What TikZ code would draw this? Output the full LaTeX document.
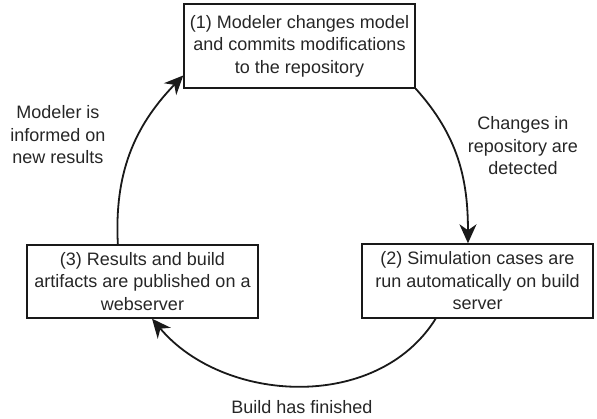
\documentclass[tikz,border=0pt]{standalone}
\usepackage{fontspec}
\setmainfont{Liberation Sans}
\usetikzlibrary{arrows.meta,calc}

\begin{document}
\begin{tikzpicture}[x=1pt,y=1pt,
  every node/.style={font=\fontsize{18}{22.5}\selectfont, text=black!85, align=center},
  stepbox/.style={draw=black!90, line width=1.4pt, minimum width=231pt, inner sep=0pt},
  flow/.style={draw=black!90, line width=1.8pt,
    -{Stealth[length=19pt,width=17pt,inset=6pt]}},
  note/.style={inner sep=0pt}]
\useasboundingbox (0,0) rectangle (597,419);

% the three stages of the cycle
\node[stepbox, minimum height=84pt, text depth=4pt] (b1) at (299.5,373)
  {(1) Modeler changes model\\and commits modifications\\to the repository};
\node[stepbox, minimum height=74pt] (b2) at (477.5,138)
  {(2) Simulation cases are\\run automatically on build\\server};
\node[stepbox, minimum height=73pt] (b3) at (142.5,137.5)
  {(3) Results and build\\artifacts are published on a\\webserver};

% transition labels
\node[note] (l12) at (523,273) {Changes in\\repository are\\detected};
\node[note] (l23) at (302,12) {Build has finished};
\node[note] (l31) at (58,284) {Modeler is\\informed on\\new results};

% connection points on the boxes
\coordinate (b2in)  at ($(b2.north west)!0.459!(b2.north east)$);
\coordinate (b2out) at ($(b2.south west)!0.32!(b2.south east)$);
\coordinate (b3in)  at ($(b3.south west)!0.541!(b3.south east)$);
\coordinate (b3out) at ($(b3.north west)!0.394!(b3.north east)$);
\coordinate (b1in)  at ($(b1.south west)!0.155!(b1.north west)$);

% the cycle
\draw[flow] (b1.south east) to[out=-48,in=90] (b2in);
\draw[flow] (b2out) to[out=-122,in=-50] (b3in);
\draw[flow] (b3out) to[out=93,in=226] (b1in);
\end{tikzpicture}
\end{document}
